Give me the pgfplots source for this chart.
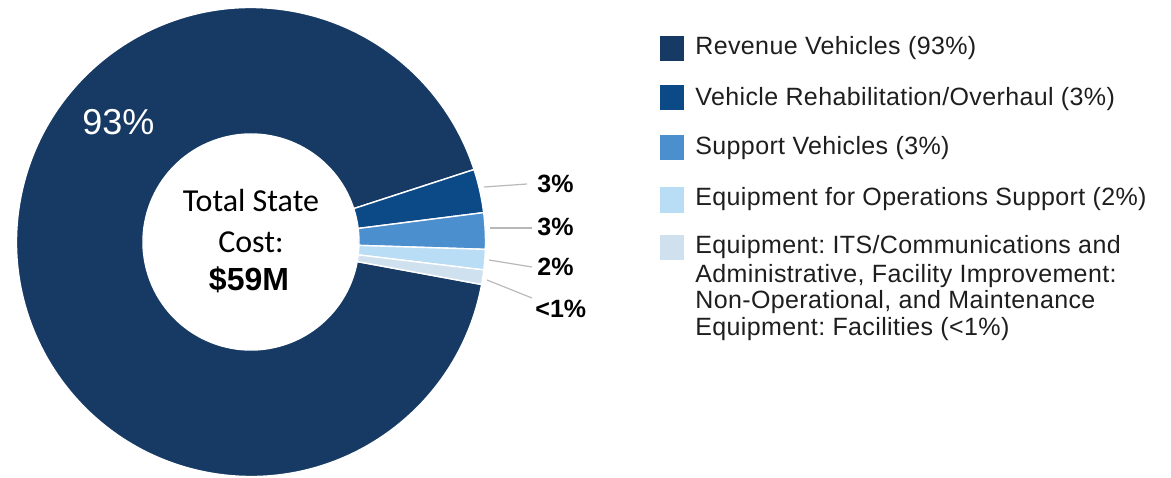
\documentclass[border=0pt]{standalone}
\usepackage{pgfplots}
\pgfplotsset{compat=1.18}
\usepackage{pgfplotstable}
\usepackage{fontspec}
\setmainfont{Liberation Sans}
\newfontfamily\legfont[LetterSpace=1.5]{Liberation Sans}
\newfontfamily\carlito{Carlito}
\frenchspacing
\definecolor{cRev}{HTML}{173A64}
\definecolor{cRehab}{HTML}{0B4A87}
\definecolor{cSupport}{HTML}{4B8FCE}
\definecolor{cOps}{HTML}{B8DDF5}
\definecolor{cITS}{HTML}{CFE1EE}
\definecolor{leader}{HTML}{B8B8B8}
\definecolor{txt}{HTML}{1E1E1E}

\pgfplotstableread{
share col
92.1 cRev
3.0 cRehab
2.5 cSupport
1.4 cOps
1.0 cITS
}\shares

\begin{document}
\frenchspacing
\begin{tikzpicture}
\begin{axis}[name=ax, hide axis, scale only axis, x=0.5pt, y=0.5pt,
  xmin=0, xmax=1171, ymin=0, ymax=477, clip=false, disabledatascaling]
\pgfplotsextra{
  \def\cx{251}\def\cy{235}\def\Ro{234.5}\def\Ri{108}
  \pgfplotstablegetrowsof{\shares}
  \pgfmathtruncatemacro{\N}{\pgfplotsretval-1}
  \pgfplotstablegetelem{0}{share}\of\shares
  \pgfmathsetmacro{\astart}{18+3.6*\pgfplotsretval}
  \xdef\acur{\astart}
  \foreach \i in {0,...,\N} {
    \pgfplotstablegetelem{\i}{share}\of\shares \let\v\pgfplotsretval
    \pgfplotstablegetelem{\i}{col}\of\shares \let\c\pgfplotsretval
    \pgfmathsetmacro{\anext}{\acur-3.6*\v}
    \fill[fill=\c, draw=white, line width=0.7pt, line join=round]
      (axis cs:{\cx+\Ro*cos(\acur)},{\cy+\Ro*sin(\acur)})
      arc[start angle=\acur, end angle=\anext, radius=117.25pt]
      -- (axis cs:{\cx+\Ri*cos(\anext)},{\cy+\Ri*sin(\anext)})
      arc[start angle=\anext, end angle=\acur, radius=54pt] -- cycle;
    \xdef\acur{\anext}
  }
  % centre text
  \node[anchor=base, inner sep=0, font=\carlito\fontsize{16}{19}\selectfont, text=black] at (axis cs:251,265) {Total State};
  \node[anchor=base, inner sep=0, font=\carlito\fontsize{16}{19}\selectfont, text=black] at (axis cs:251,225) {Cost:};
  \node[anchor=base, inner sep=0, font=\bfseries\fontsize{16}{19}\selectfont, text=black] at (axis cs:249,187) {\$59M};
  % 93% label
  \node[anchor=base west, inner sep=0, font=\fontsize{18}{21}\selectfont, text=white] at (axis cs:82,342) {93\%};
  % leader lines and labels
  \draw[leader, line width=0.6pt] (axis cs:484,290) -- (axis cs:527,293);
  \draw[leader, line width=0.6pt] (axis cs:490,249) -- (axis cs:532,249);
  \draw[leader, line width=0.6pt] (axis cs:489,217) -- (axis cs:532,210);
  \draw[leader, line width=0.6pt] (axis cs:487,197) -- (axis cs:532,179);
  \node[anchor=base west, inner sep=0, font=\bfseries\fontsize{12.5}{15}\selectfont, text=black] at (axis cs:537,284) {3\%};
  \node[anchor=base west, inner sep=0, font=\bfseries\fontsize{12.5}{15}\selectfont, text=black] at (axis cs:537,242) {3\%};
  \node[anchor=base west, inner sep=0, font=\bfseries\fontsize{12.5}{15}\selectfont, text=black] at (axis cs:537,202) {2\%};
  \node[anchor=base west, inner sep=0, font=\bfseries\fontsize{12.5}{15}\selectfont, text=black] at (axis cs:535,160) {<1\%};
  % legend
  \fill[cRev] (axis cs:660,441) rectangle (axis cs:684,416);
  \fill[cRehab] (axis cs:660,392) rectangle (axis cs:684,367);
  \fill[cSupport] (axis cs:660,342) rectangle (axis cs:684,317);
  \fill[cOps] (axis cs:660,290) rectangle (axis cs:684,264);
  \fill[cITS] (axis cs:660,242) rectangle (axis cs:684,217);
  \tikzset{leg/.style={anchor=base west, inner sep=0, font=\legfont\fontsize{12.5}{15}\selectfont, text=txt}}
  \node[leg] at (axis cs:695,422) {Revenue Vehicles (93\%)};
  \node[leg] at (axis cs:695,371) {Vehicle Rehabilitation/Overhaul (3\%)};
  \node[leg] at (axis cs:695,322) {Support Vehicles (3\%)};
  \node[leg] at (axis cs:695,271) {Equipment for Operations Support (2\%)};
  \node[leg] at (axis cs:695,224) {Equipment: ITS/Communications and};
  \node[leg] at (axis cs:695,195) {Administrative, Facility Improvement:};
  \node[leg] at (axis cs:695,169) {Non-Operational, and Maintenance};
  \node[leg] at (axis cs:695,142) {Equipment: Facilities (<1\%)};
}
\end{axis}
\pgfresetboundingbox
\path (ax.south west) rectangle (ax.north east);
\end{tikzpicture}
\end{document}
